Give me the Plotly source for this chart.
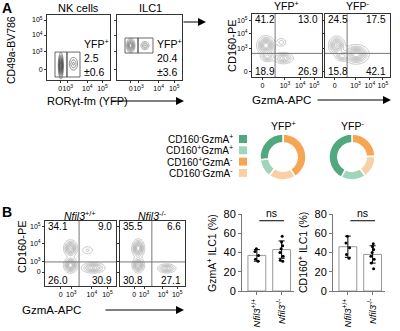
import numpy as np
import plotly.graph_objects as go

# ---------------- data ----------------
flow_tick_text = ["0", "10<sup>3</sup>", "10<sup>4</sup>", "10<sup>5</sup>"]

yfp_groups = ["NK cells", "ILC1"]
yfp_freq_mean = [2.5, 20.4]
yfp_freq_sd = [0.6, 3.6]

# quadrant frequencies: [CD160+GzmA-, CD160+GzmA+, CD160-GzmA-, CD160-GzmA+]
yfp_pos_quadrants = [41.2, 13.0, 18.9, 26.9]
yfp_neg_quadrants = [24.5, 17.5, 15.8, 42.1]
nfil3_wt_quadrants = [34.1, 9.0, 26.0, 30.9]
nfil3_ko_quadrants = [35.5, 6.6, 30.8, 27.1]

donut_labels = ["CD160<sup>+</sup>GzmA<sup>-</sup>", "CD160<sup>-</sup>GzmA<sup>-</sup>",
                "CD160<sup>+</sup>GzmA<sup>+</sup>", "CD160<sup>-</sup>GzmA<sup>+</sup>"]
donut_order = [0, 2, 1, 3]  # quadrant index for each donut slice
legend_labels = ["CD160<sup>-</sup>GzmA<sup>+</sup>", "CD160<sup>+</sup>GzmA<sup>+</sup>",
                 "CD160<sup>+</sup>GzmA<sup>-</sup>", "CD160<sup>-</sup>GzmA<sup>-</sup>"]

genotypes = ["<i>Nfil3</i><sup>+/+</sup>", "<i>Nfil3</i><sup>-/-</sup>"]
bar_ticks = [0, 20, 40, 60, 80]
gzma_mean = [37, 43]
gzma_sd = [6, 9]
gzma_wt_pts = [44, 41, 37, 33, 31]
gzma_ko_pts = [57, 51, 47, 44, 40, 36, 32, 31]
cd160_mean = [46, 38]
cd160_sd = [11, 9]
cd160_wt_pts = [57, 50, 45, 38, 34]
cd160_ko_pts = [49, 46, 43, 40, 36, 33, 29, 23]

# cell populations drawn as density contours: (centre x, centre y, spread x, spread y, weight)
nk_pops = [(0.22, 0.22, 0.018, 0.09, 1.0), (0.42, 0.25, 0.04, 0.06, 0.3)]
ilc1_pops = [(0.21, 0.53, 0.03, 0.05, 1.0), (0.43, 0.53, 0.035, 0.035, 0.4)]
yfp_pos_pops = [(0.20, 0.50, 0.06, 0.07, 1.0), (0.45, 0.30, 0.07, 0.045, 0.6),
                (0.42, 0.55, 0.04, 0.04, 0.25), (0.22, 0.32, 0.05, 0.04, 0.5)]
yfp_neg_pops = [(0.18, 0.50, 0.06, 0.07, 0.8), (0.48, 0.36, 0.09, 0.07, 1.0),
                (0.26, 0.33, 0.05, 0.04, 0.5)]
wt_pops = [(0.36, 0.58, 0.045, 0.06, 0.9), (0.36, 0.32, 0.045, 0.055, 1.0),
           (0.68, 0.28, 0.08, 0.04, 0.7), (0.60, 0.55, 0.05, 0.04, 0.2)]
ko_pops = [(0.28, 0.58, 0.045, 0.065, 1.0), (0.28, 0.32, 0.045, 0.055, 0.9),
           (0.72, 0.27, 0.07, 0.035, 0.6)]

# ---------------- layout helpers ----------------
W, H = 400, 331
FONT = "Liberation Sans, Arial, sans-serif"
def fx(p): return p / W
def fy(p): return 1 - p / H

C_DG, C_LG, C_OR, C_LO = "#52a87e", "#9fd6bb", "#f6a553", "#f9cfa5"
donut_colors = [C_OR, C_LO, C_LG, C_DG]
legend_colors = [C_DG, C_LG, C_OR, C_LO]

fig = go.Figure()
layout = dict(width=W, height=H, margin=dict(l=0, r=0, t=0, b=0), template="none",
              paper_bgcolor="white", plot_bgcolor="rgba(0,0,0,0)", showlegend=False,
              font=dict(family=FONT, color="black"))
shapes, annots = [], []

def txt(x, y, s, size=10, xa="center", ya="middle", angle=0, **kw):
    annots.append(dict(x=fx(x), y=fy(y), xref="paper", yref="paper", text=s, showarrow=False,
                       xanchor=xa, yanchor=ya, textangle=angle,
                       font=dict(size=size, family=FONT, color="black"), **kw))

def arrow(x0, x1, y):
    annots.append(dict(x=fx(x1), y=fy(y), xref="paper", yref="paper", ax=-(x1 - x0), ay=0,
                       text="", showarrow=True, arrowhead=2, arrowsize=1.6, arrowwidth=1,
                       arrowcolor="black"))

gx = np.linspace(0, 1, 160)
gy = np.linspace(0, 1, 160)
GX, GY = np.meshgrid(gx, gy)

panels = [
    (1, (47, 15, 110, 80), [0.21, 0.33, 0.64, 0.88], [0.154, 0.431, 0.692, 0.923], True, nk_pops, None, "#555"),
    (2, (117, 15, 182, 80), [0.21, 0.33, 0.64, 0.88], [0.154, 0.431, 0.692, 0.923], False, ilc1_pops, None, "#888"),
    (3, (252, 14, 322, 77), [0.15, 0.47, 0.69, 0.89], [0.08, 0.45, 0.69, 0.89], True, yfp_pos_pops, (0.33, 0.375), "#aaa"),
    (4, (325, 14, 390, 77), [0.15, 0.47, 0.69, 0.89], [0.08, 0.45, 0.69, 0.89], False, yfp_neg_pops, (0.34, 0.375), "#aaa"),
    (5, (45, 221, 116, 286), [0.22, 0.37, 0.66, 0.88], [0.215, 0.37, 0.66, 0.91], True, wt_pops, (0.48, 0.37), "#aaa"),
    (6, (120, 221, 185, 286), [0.22, 0.37, 0.66, 0.88], [0.215, 0.37, 0.66, 0.91], False, ko_pops, (0.49, 0.37), "#aaa"),
]

for idx, (x0, y0, x1, y1), xt, yt, ylab, pops, quad, col in panels:
    layout[f"xaxis{idx}"] = dict(domain=[fx(x0), fx(x1)], range=[0, 1], anchor=f"y{idx}",
                                 showline=True, mirror=True, linecolor="#333", linewidth=1,
                                 ticks="outside", ticklen=2, tickcolor="#333", tickangle=0,
                                 tickvals=xt, ticktext=flow_tick_text, tickfont=dict(size=7),
                                 showgrid=False, zeroline=False, fixedrange=True)
    layout[f"yaxis{idx}"] = dict(domain=[fy(y1), fy(y0)], range=[0, 1], anchor=f"x{idx}",
                                 showline=True, mirror=True, linecolor="#333", linewidth=1,
                                 ticks="outside", ticklen=2, tickcolor="#333", tickangle=0,
                                 tickvals=yt, ticktext=flow_tick_text, tickfont=dict(size=7),
                                 showticklabels=ylab, showgrid=False, zeroline=False,
                                 fixedrange=True)
    Z = np.zeros_like(GX)
    for cx, cy, sx, sy, w in pops:
        Z += w * np.exp(-((GX - cx) ** 2 / (2 * sx ** 2) + (GY - cy) ** 2 / (2 * sy ** 2)))
    Z = Z / Z.max()
    fig.add_trace(go.Contour(x=gx, y=gy, z=Z, xaxis=f"x{idx}", yaxis=f"y{idx}",
                             contours=dict(coloring="lines", start=0.08, end=0.95, size=0.1),
                             line=dict(width=0.7, smoothing=1.0),
                             colorscale=[[0, col], [1, col]], showscale=False,
                             hoverinfo="skip"))
    if quad is not None:
        qx, qy = quad
        shapes.append(dict(type="line", xref=f"x{idx}", yref=f"y{idx}", x0=qx, x1=qx, y0=0, y1=1,
                           line=dict(color="#777", width=1)))
        shapes.append(dict(type="line", xref=f"x{idx}", yref=f"y{idx}", x0=0, x1=1, y0=qy, y1=qy,
                           line=dict(color="#777", width=1)))

# gates for YFP+ in NK cells / ILC1
for idx, (gx0, gx1, gx2, gy0, gy1) in [(1, (0.127, 0.317, 0.524, 0.046, 0.43)),
                                       (2, (0.123, 0.323, 0.554, 0.415, 0.646))]:
    for a, b in [(gx0, gx1), (gx1, gx2)]:
        shapes.append(dict(type="rect", xref=f"x{idx}", yref=f"y{idx}", x0=a, x1=b, y0=gy0, y1=gy1,
                           line=dict(color="#444", width=0.8)))

# quadrant numbers
def quad_text(idx, vals):
    pos = [(0.02, 0.92, "left"), (0.97, 0.92, "right"), (0.02, 0.09, "left"), (0.97, 0.09, "right")]
    for v, (qx, qy, xa) in zip(vals, pos):
        annots.append(dict(x=qx, y=qy, xref=f"x{idx} domain", yref=f"y{idx} domain",
                           text=f"{v:.1f}", showarrow=False, xanchor=xa, yanchor="middle",
                           font=dict(size=10, family=FONT, color="black")))
quad_text(3, yfp_pos_quadrants)
quad_text(4, yfp_neg_quadrants)
quad_text(5, nfil3_wt_quadrants)
quad_text(6, nfil3_ko_quadrants)

# YFP+ frequency text
for (xl, m, s) in zip([82, 155], yfp_freq_mean, yfp_freq_sd):
    txt(xl, 43, "YFP<sup>+</sup>", 10.5, xa="left")
    txt(xl, 58, f"{m}", 10.5, xa="left")
    txt(xl, 72, f"±{s}", 10.5, xa="left")

# titles and labels panel A
txt(7, 8, "<b>A</b>", 14)
txt(78, 8, yfp_groups[0], 11)
txt(150, 8, yfp_groups[1], 11)
txt(11, 50, "CD49a-BV786", 10.5, angle=-90)
txt(45, 101, "RORγt-fm (YFP)", 11, xa="left")
arrow(110, 184, 101)
arrow(182, 206, 22)
txt(286, 6, "YFP<sup>+</sup>", 10.5)
txt(357, 6, "YFP<sup>-</sup>", 10.5)
txt(232, 45, "CD160-PE", 11, angle=-90)
txt(250, 100, "GzmA-APC", 11.5, xa="left")
arrow(316, 391, 100)

# donuts
for vals, (cx, ttl) in [(yfp_pos_quadrants, (283, "YFP<sup>+</sup>")),
                        (yfp_neg_quadrants, (352, "YFP<sup>-</sup>"))]:
    fig.add_trace(go.Pie(values=[vals[i] for i in donut_order], labels=donut_labels,
                         marker=dict(colors=donut_colors, line=dict(color="white", width=1.5)),
                         hole=0.62, sort=False, direction="clockwise", rotation=0,
                         textinfo="none", hoverinfo="skip",
                         domain=dict(x=[fx(cx - 23), fx(cx + 23)], y=[fy(180), fy(134)])))
    txt(cx, 126, ttl, 10.5)
for i, (lab, col) in enumerate(zip(legend_labels, legend_colors)):
    yy = 139 + i * 11.3
    txt(235, yy, lab, 10, xa="right")
    shapes.append(dict(type="rect", xref="paper", yref="paper", x0=fx(239), x1=fx(247),
                       y0=fy(yy + 4), y1=fy(yy - 4), fillcolor=col, line=dict(width=0)))

# panel B labels
txt(7, 212, "<b>B</b>", 14)
txt(80, 215, genotypes[0], 10.5)
txt(152, 215, genotypes[1], 10.5)
txt(22, 247, "CD160-PE", 11, angle=-90)
txt(20, 310, "GzmA-APC", 11.5, xa="left")
arrow(104, 184, 310)

# bar charts
bar_sets = [(7, 242, gzma_mean, gzma_sd, gzma_wt_pts, gzma_ko_pts, "GzmA<sup>+</sup> ILC1 (%)", 211),
            (8, 333, cd160_mean, cd160_sd, cd160_wt_pts, cd160_ko_pts, "CD160<sup>+</sup> ILC1 (%)", 302)]
for idx, ax0, mean, sd, wt, ko, ylab, ylx in bar_sets:
    layout[f"xaxis{idx}"] = dict(domain=[fx(ax0), fx(ax0 + 52)], range=[-0.6, 1.5], anchor=f"y{idx}",
                                 showline=True, linecolor="#777", linewidth=1,
                                 ticks="outside", ticklen=3, tickcolor="#777",
                                 tickvals=[0, 1], ticktext=genotypes, tickangle=-90,
                                 tickfont=dict(size=9.5), showgrid=False, zeroline=False,
                                 fixedrange=True)
    layout[f"yaxis{idx}"] = dict(domain=[fy(291), fy(214)], range=[0, 80], anchor=f"x{idx}",
                                 showline=True, linecolor="#777", linewidth=1,
                                 ticks="outside", ticklen=3, tickcolor="#777", tickangle=0,
                                 tickvals=bar_ticks, ticktext=[str(t) for t in bar_ticks],
                                 tickfont=dict(size=11, color="black"), showticklabels=True,
                                 showgrid=False, zeroline=False, fixedrange=True)
    fig.add_trace(go.Bar(x=[0, 1], y=mean, width=0.72, xaxis=f"x{idx}", yaxis=f"y{idx}",
                         marker=dict(color="white", line=dict(color="#999", width=1)),
                         error_y=dict(type="data", array=sd, color="black", thickness=1, width=3),
                         hoverinfo="skip"))
    for xi, pts in [(0, wt), (1, ko)]:
        fig.add_trace(go.Box(x=[xi] * len(pts), y=pts, xaxis=f"x{idx}", yaxis=f"y{idx}",
                             boxpoints="all", jitter=0.35, pointpos=0, width=0.5,
                             fillcolor="rgba(0,0,0,0)", line=dict(width=0, color="rgba(0,0,0,0)"),
                             marker=dict(color="black", size=3), hoverinfo="skip"))
    shapes.append(dict(type="line", xref=f"x{idx}", yref=f"y{idx}", x0=0.1, x1=1.1, y0=73, y1=73,
                       line=dict(color="black", width=1)))
    annots.append(dict(x=0.6, y=73, xref=f"x{idx}", yref=f"y{idx}", text="ns", showarrow=False,
                       yanchor="bottom", font=dict(size=10.5, family=FONT, color="black")))
    txt(ylx, 253, ylab, 10.5, angle=-90)

layout["shapes"] = shapes
layout["annotations"] = annots
layout["boxmode"] = "overlay"
layout["hovermode"] = False
fig.update_layout(**layout)
# remove the browser's default 8px page margin so the 400x331 figure fills the window exactly
fig.write_html("out.html", include_plotlyjs=True,
               config={"displayModeBar": False, "staticPlot": True},
               post_script="document.body.style.margin='0';document.body.style.padding='0';")
